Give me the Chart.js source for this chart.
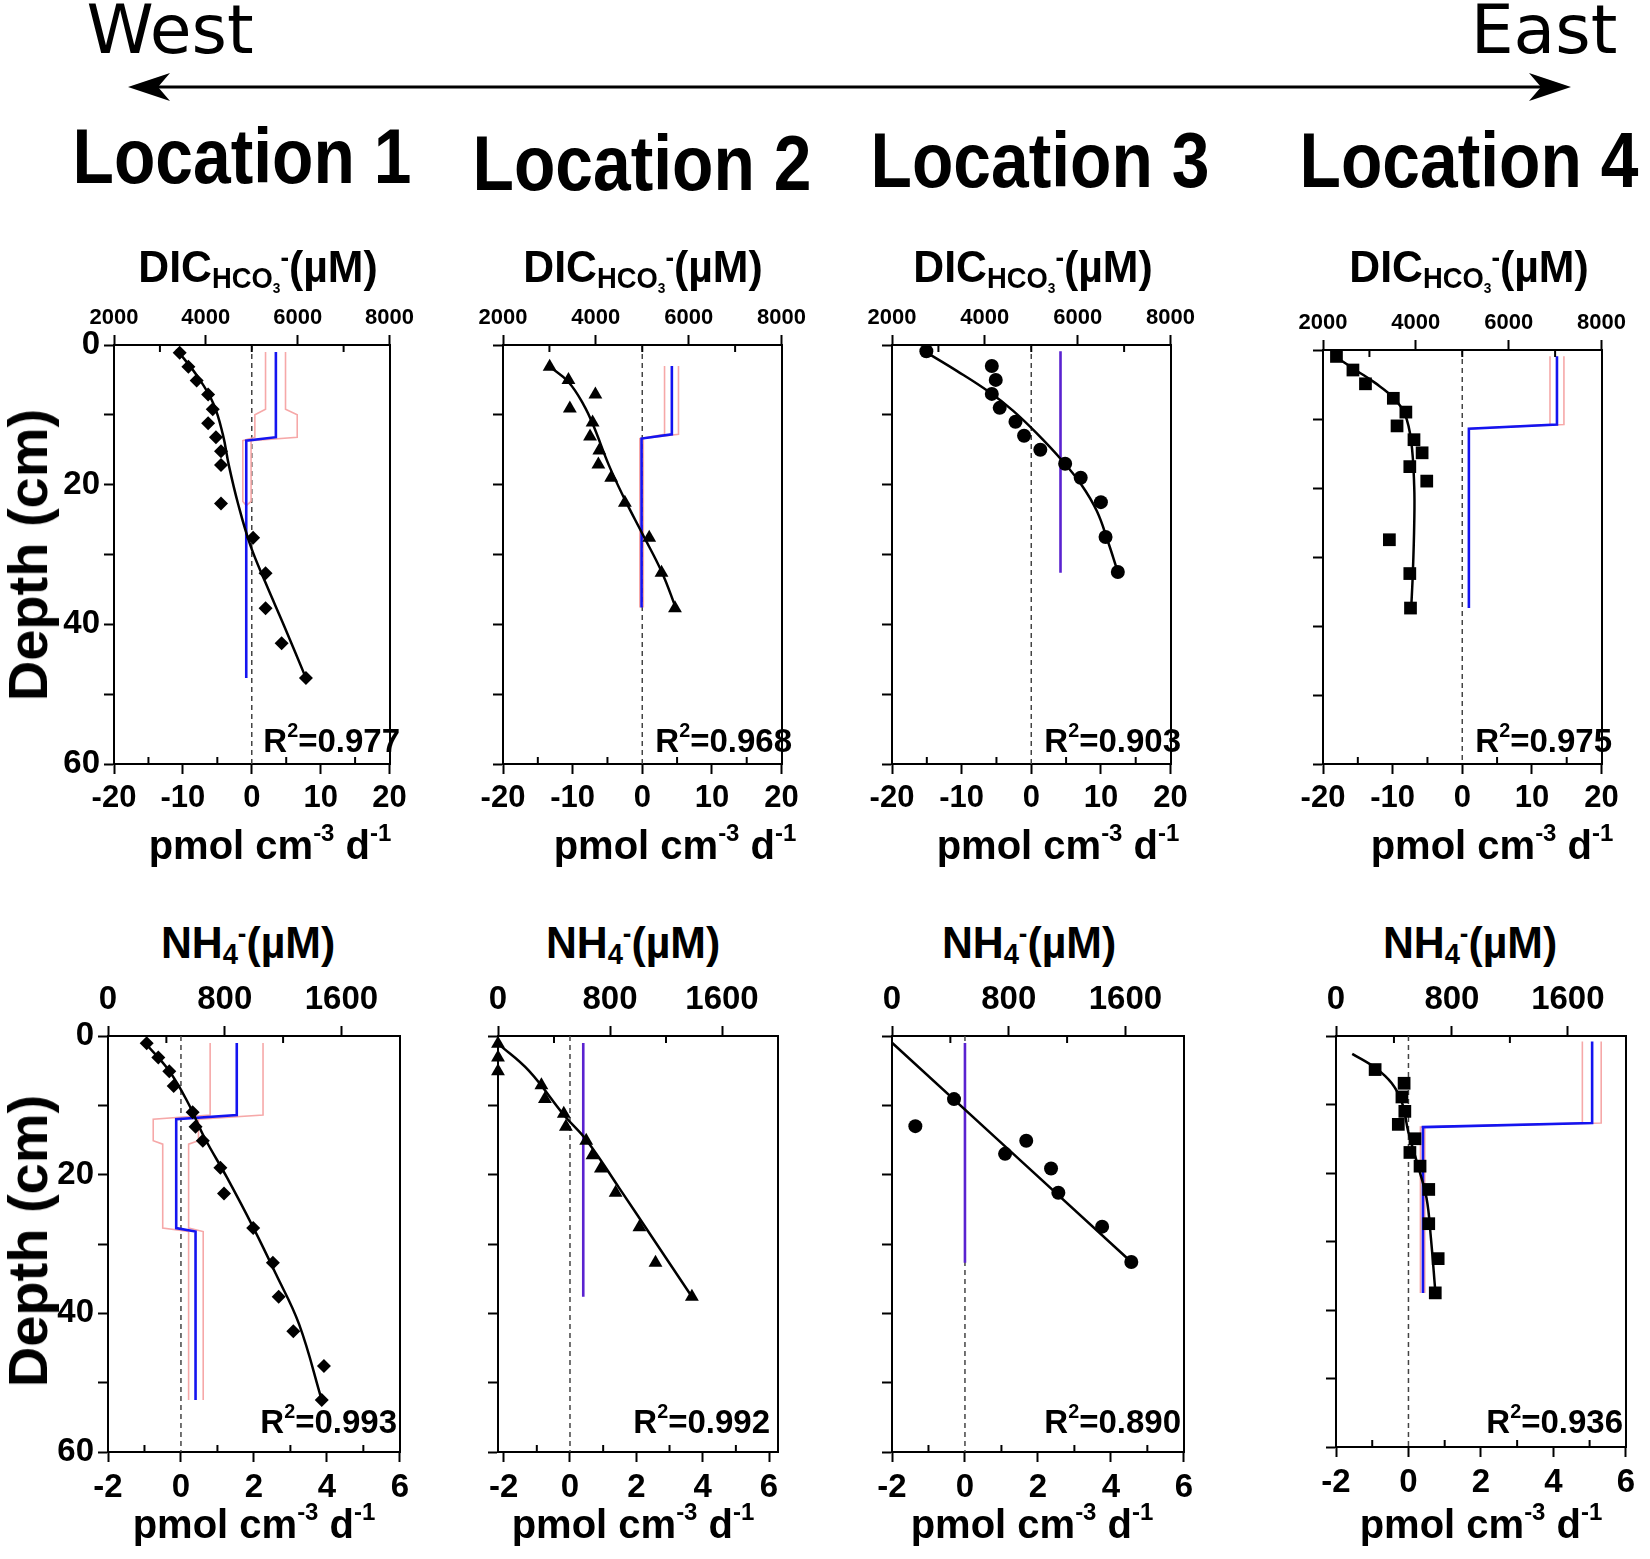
<!DOCTYPE html>
<html>
<head>
<meta charset="utf-8">
<script src="https://cdn.jsdelivr.net/npm/chart.js@4.4.1/dist/chart.umd.min.js"></script>
<style>
  body { margin: 0; background: #fff; }
  #fig { position: relative; width: 1650px; height: 1559px; overflow: hidden; font-family: 'Liberation Sans', Arial, sans-serif; }
  #fig canvas { position: absolute; }
  .lbl { position: absolute; transform: translate(-50%, -50%); white-space: nowrap; font-weight: bold; line-height: 1; color: #000; z-index: 2; }
  .loc { font-size: 77px; transform: translate(-50%, -50%) scaleX(0.88); }
  .dir { font-family: 'DejaVu Sans', sans-serif; font-weight: normal; font-size: 68px; }
  .ttl { font-size: 45px; transform: translate(-50%, -50%) scaleX(0.95); }
  .ttl .sm { font-size: 0.64em; position: relative; top: 0.2em; }
  .ttl .s3 { font-size: 0.5em; position: relative; top: 0.35em; }
  .ttl .sp { font-size: 0.6em; position: relative; top: -0.55em; }
  .unit { font-size: 40px; }
  .unit sup, .r2 sup { font-size: 0.6em; position: relative; top: -0.15em; vertical-align: top; }
  .r2 { font-size: 33px; transform: translate(-100%, -50%); }
  .depth { font-size: 56px; transform: translate(-50%, -50%) rotate(-90deg); }
</style>
</head>
<body>
<div id="fig">
  <svg style="position:absolute;left:0;top:0" width="1650" height="140">
    <line x1="150" y1="87" x2="1550" y2="87" stroke="#000" stroke-width="3"/>
    <path d="M128,87 L170,73 L158,87 L170,101 Z" fill="#000"/>
    <path d="M1571,87 L1529,73 L1541,87 L1529,101 Z" fill="#000"/>
  </svg>
  <div class="lbl dir" style="left:170px;top:30px">West</div>
  <div class="lbl dir" style="left:1544px;top:30px">East</div>
  <div class="lbl loc" style="left:242px;top:156px">Location 1</div>
  <div class="lbl loc" style="left:642px;top:163px">Location 2</div>
  <div class="lbl loc" style="left:1040px;top:160px">Location 3</div>
  <div class="lbl loc" style="left:1469px;top:160px">Location 4</div>
  <div class="lbl depth" style="left:28px;top:555px">Depth (cm)</div>
  <div class="lbl depth" style="left:28px;top:1241px">Depth (cm)</div>
</div>
<script>
// ---- Location 1, DIC ----
const dic1Depth = [1.1, 3.1, 5.1, 7.1, 9.2, 11.2, 13.2, 15.2, 17.2, 22.7, 27.6, 32.7, 37.7, 42.7, 47.7];
const dic1Conc = [3430, 3620, 3800, 4050, 4150, 4050, 4220, 4330, 4330, 4330, 5030, 5300, 5300, 5650, 6180];
const dic1FitDepth = [0.6, 4.6, 8.4, 12.8, 17.2, 22.7, 28.7, 34.2, 40.3, 47.7];
const dic1FitConc = [3360, 3830, 4165, 4370, 4500, 4700, 4970, 5310, 5710, 6180];
const dic1RateDepth = [1.0, 13.2, 13.7, 47.7];
const dic1Rate = [3.5, 3.5, -0.8, -0.8];
const dic1BandDepth = [1.0, 9.2, 10.0, 13.2, 13.7, 22.4, 23.0];
const dic1Lo = [2.0, 2.0, 0.45, 0.45, -1.3, -1.3, -0.8];
const dic1Hi = [4.9, 4.9, 6.6, 6.6, -0.1, -0.1, -0.8];

// ---- Location 2, DIC ----
const dic2Depth = [3.1, 5.0, 7.1, 9.1, 11.1, 13.1, 15.1, 17.1, 19.0, 22.6, 27.6, 32.6, 37.7];
const dic2Conc = [3005, 3410, 3990, 3440, 3930, 3875, 4075, 4055, 4330, 4625, 5150, 5415, 5705];
const dic2FitDepth = [3.1, 5.3, 8.6, 11.5, 17.2, 22.0, 27.0, 32.5, 37.6];
const dic2FitConc = [3005, 3410, 3740, 3945, 4280, 4615, 5000, 5420, 5720];
const dic2RateDepth = [3.0, 12.8, 13.4, 37.6];
const dic2Rate = [4.25, 4.25, -0.1, -0.1];
const dic2BandDepth = [3.0, 12.8, 13.4, 37.6];
const dic2Lo = [3.2, 3.2, -0.35, -0.35];
const dic2Hi = [5.2, 5.2, 0.15, 0.15];

// ---- Location 3, DIC ----
const dic3Depth = [0.9, 3.0, 5.0, 7.0, 9.0, 11.0, 13.0, 15.0, 17.0, 19.0, 22.5, 27.5, 32.5];
const dic3Conc = [2740, 4150, 4235, 4150, 4320, 4660, 4845, 5195, 5730, 6065, 6500, 6600, 6865];
const dic3FitDepth = [1.05, 3.7, 6.6, 9.4, 12.8, 16.4, 20.0, 23.8, 28.1, 32.2];
const dic3FitConc = [2740, 3395, 4065, 4605, 5140, 5645, 6080, 6415, 6650, 6850];
const dic3RateDepth = [0.9, 32.6];
const dic3Rate = [4.2, 4.2];

// ---- Location 4, DIC ----
const dic4Depth = [0.93, 2.9, 4.9, 7.0, 9.0, 11.0, 13.0, 14.9, 16.9, 19.0, 27.5, 32.4, 37.4];
const dic4Conc = [2290, 2645, 2915, 3515, 3785, 3595, 3960, 4135, 3870, 4235, 3430, 3870, 3885];
const dic4FitDepth = [0.93, 3.0, 4.8, 7.0, 9.3, 13.2, 19.8, 25.3, 32.4, 37.4];
const dic4FitConc = [2255, 2725, 3130, 3530, 3765, 3900, 3965, 3965, 3935, 3900];
const dic4RateDepth = [0.9, 10.8, 11.4, 37.4];
const dic4Rate = [13.6, 13.6, 0.95, 0.95];
const dic4BandDepth = [0.9, 10.8, 11.4, 37.4];
const dic4Lo = [12.6, 12.6, 0.95, 0.95];
const dic4Hi = [14.6, 14.6, 0.95, 0.95];

// ---- Location 1, NH4 ----
const nh1Depth = [1.06, 3.1, 5.1, 7.2, 11.0, 13.1, 15.1, 19.0, 22.7, 27.7, 32.7, 37.6, 42.6, 47.6, 52.5];
const nh1Conc = [265, 345, 420, 450, 580, 600, 650, 770, 795, 995, 1130, 1170, 1270, 1480, 1465];
const nh1FitDepth = [0.8, 4.9, 9.7, 14.6, 20.4, 27.6, 34.3, 41.6, 52.5];
const nh1FitConc = [245, 415, 550, 660, 815, 995, 1150, 1310, 1465];
const nh1RateDepth = [1.0, 11.4, 12.0, 27.7, 28.2, 52.5];
const nh1Rate = [1.53, 1.53, -0.13, -0.13, 0.4, 0.4];
const nh1BandDepth = [1.0, 11.4, 12.0, 15.1, 15.6, 27.7, 28.2, 52.5];
const nh1Lo = [0.8, 0.8, -0.76, -0.76, -0.5, -0.5, 0.21, 0.21];
const nh1Hi = [2.25, 2.25, 0.48, 0.48, 0.21, 0.21, 0.61, 0.61];

// ---- Location 2, NH4 ----
const nh2Depth = [1.1, 3.1, 5.1, 7.1, 9.1, 11.2, 13.1, 15.1, 17.2, 19.1, 22.6, 27.6, 32.7, 37.6];
const nh2Conc = [0, 0, 0, 310, 335, 470, 485, 630, 675, 735, 840, 1010, 1125, 1385];
const nh2FitDepth = [1.1, 5.0, 11.5, 15.1, 21.9, 29.6, 37.6];
const nh2FitConc = [0, 220, 475, 635, 865, 1120, 1385];
const nh2RateDepth = [1.0, 37.6];
const nh2Rate = [0.4, 0.4];

// ---- Location 3, NH4 ----
const nh3Depth = [9.1, 13.0, 15.1, 17.0, 19.1, 22.6, 27.5, 32.6];
const nh3Conc = [425, 160, 920, 775, 1090, 1140, 1440, 1640];
const nh3FitDepth = [0.97, 32.6];
const nh3FitConc = [0, 1640];
const nh3RateDepth = [1.0, 32.7];
const nh3Rate = [0, 0];

// ---- Location 4, NH4 ----
const nh4Depth = [4.9, 6.9, 8.9, 11.0, 12.9, 15.0, 17.0, 19.0, 22.4, 27.4, 32.5, 37.5];
const nh4Conc = [270, 470, 455, 475, 430, 545, 510, 580, 640, 640, 705, 685];
const nh4FitDepth = [2.6, 4.7, 6.9, 9.7, 14.1, 18.9, 23.7, 29.5, 37.2];
const nh4FitConc = [112, 275, 385, 455, 500, 565, 625, 655, 685];
const nh4RateDepth = [0.8, 12.7, 13.3, 37.5];
const nh4Rate = [5.07, 5.07, 0.4, 0.4];
const nh4BandDepth = [0.8, 12.7, 13.3, 37.5];
const nh4Lo = [4.8, 4.8, 0.33, 0.33];
const nh4Hi = [5.32, 5.32, 0.45, 0.45];

const r2Values = ['0.977', '0.968', '0.903', '0.975', '0.993', '0.992', '0.890', '0.936'];

// tick values (labelled / major) and minor ticks
const depthTicks = [0, 10, 20, 30, 40, 50, 60];
const depthLabels = [0, 20, 40, 60];
const dicTicks = [2000, 4000, 6000, 8000];
const dicMinor = [3000, 5000, 7000];
const nhTicks = [0, 800, 1600];
const nhMinor = [400, 1200];
const dicRateTicks = [-20, -10, 0, 10, 20];
const dicRateMinor = [-15, -5, 5, 15];
const nhRateTicks = [-2, 0, 2, 4, 6];
const nhRateMinor = [-1, 1, 3, 5];

const BLUE = '#1414f0', PINK = '#f6a8a8', PURPLE = '#5a22d0';
const FONT = "'Liberation Sans', Arial, sans-serif";
const PAD = { l: 90, t: 62, r: 10, b: 62 };

const pairs = (xs, ys) => xs.map((x, i) => ({ x: x, y: ys[i] }));
const tickObjs = vals => vals.map(v => ({ value: v }));

const panels = [
  { box: [114, 345, 408, 764], row: 1, leftLabels: true, marker: 'rectRot', size: 7,
    conc: dic1Conc, depth: dic1Depth, fitC: dic1FitConc, fitD: dic1FitDepth,
    rate: dic1Rate, rateD: dic1RateDepth, lo: dic1Lo, hi: dic1Hi, bandD: dic1BandDepth, title: 'dic', cx: 258, ux: 270 },
  { box: [503, 345, 800, 764], row: 1, marker: 'triangle', size: 8,
    conc: dic2Conc, depth: dic2Depth, fitC: dic2FitConc, fitD: dic2FitDepth,
    rate: dic2Rate, rateD: dic2RateDepth, lo: dic2Lo, hi: dic2Hi, bandD: dic2BandDepth, title: 'dic', cx: 643, ux: 675 },
  { box: [892, 345, 1189, 764], row: 1, marker: 'circle', size: 7,
    conc: dic3Conc, depth: dic3Depth, fitC: dic3FitConc, fitD: dic3FitDepth,
    rate: dic3Rate, rateD: dic3RateDepth, purple: true, title: 'dic', cx: 1033, ux: 1058 },
  { box: [1323, 350, 1620, 764], row: 1, marker: 'rect', size: 9,
    conc: dic4Conc, depth: dic4Depth, fitC: dic4FitConc, fitD: dic4FitDepth,
    rate: dic4Rate, rateD: dic4RateDepth, lo: dic4Lo, hi: dic4Hi, bandD: dic4BandDepth, title: 'dic', cx: 1469, ux: 1492 },
  { box: [108, 1036, 405, 1452], row: 2, leftLabels: true, marker: 'rectRot', size: 7,
    conc: nh1Conc, depth: nh1Depth, fitC: nh1FitConc, fitD: nh1FitDepth,
    rate: nh1Rate, rateD: nh1RateDepth, lo: nh1Lo, hi: nh1Hi, bandD: nh1BandDepth, title: 'nh', cx: 248, ux: 254 },
  { box: [498, 1036, 778, 1452], row: 2, marker: 'triangle', size: 8, rateRange: [-2.17, 6.27],
    conc: nh2Conc, depth: nh2Depth, fitC: nh2FitConc, fitD: nh2FitDepth,
    rate: nh2Rate, rateD: nh2RateDepth, purple: true, title: 'nh', cx: 633, ux: 633 },
  { box: [892, 1036, 1189, 1452], row: 2, marker: 'circle', size: 7,
    conc: nh3Conc, depth: nh3Depth, fitC: nh3FitConc, fitD: nh3FitDepth,
    rate: nh3Rate, rateD: nh3RateDepth, purple: true, title: 'nh', cx: 1029, ux: 1032 },
  { box: [1336, 1036, 1631, 1447], row: 2, marker: 'rect', size: 9,
    conc: nh4Conc, depth: nh4Depth, fitC: nh4FitConc, fitD: nh4FitDepth,
    rate: nh4Rate, rateD: nh4RateDepth, lo: nh4Lo, hi: nh4Hi, bandD: nh4BandDepth, title: 'nh', cx: 1470, ux: 1481 }
];

// minor ticks drawn inside the box, between the labelled ticks
const minorTicks = {
  id: 'minorTicks',
  afterDraw(chart, args, opts) {
    const ctx = chart.ctx, area = chart.chartArea;
    ctx.save();
    ctx.strokeStyle = '#000';
    ctx.lineWidth = 2;
    ['x', 'x2'].forEach(id => {
      const s = chart.scales[id];
      const vals = opts[id];
      if (!s || !vals) return;
      const y0 = id === 'x' ? area.bottom : area.top;
      const dir = id === 'x' ? -1 : 1;
      vals.forEach(v => {
        const px = s.getPixelForValue(v);
        ctx.beginPath();
        ctx.moveTo(px, y0);
        ctx.lineTo(px, y0 + dir * 7);
        ctx.stroke();
      });
    });
    ctx.restore();
  }
};

const fig = document.getElementById('fig');

function addText(cls, x, y, html) {
  const d = document.createElement('div');
  d.className = 'lbl ' + cls;
  d.style.left = x + 'px';
  d.style.top = y + 'px';
  d.innerHTML = html;
  fig.appendChild(d);
}

panels.forEach((p, i) => {
  const [l, t, r, b] = p.box;
  const canvas = document.createElement('canvas');
  canvas.width = (r - l) + PAD.l + PAD.r;
  canvas.height = (b - t) + PAD.t + PAD.b;
  canvas.style.left = (l - PAD.l) + 'px';
  canvas.style.top = (t - PAD.t) + 'px';
  fig.appendChild(canvas);

  const row1 = p.row === 1;
  const cTicks = row1 ? dicTicks : nhTicks;
  const rTicks = row1 ? dicRateTicks : nhRateTicks;
  const cMin = row1 ? 2000 : 0, cMax = row1 ? 8000 : 2000;
  const rMin = p.rateRange ? p.rateRange[0] : rTicks[0];
  const rMax = p.rateRange ? p.rateRange[1] : rTicks[rTicks.length - 1];

  const datasets = [
    { data: pairs(p.conc, p.depth), xAxisID: 'x2', showLine: false, pointStyle: p.marker,
      pointRadius: p.size, backgroundColor: '#000', borderColor: '#000', borderWidth: 0, clip: false },
    { data: pairs(p.fitC, p.fitD), xAxisID: 'x2', showLine: true, pointRadius: 0,
      borderColor: '#000', borderWidth: 2.5, tension: 0.4 },
    { data: pairs(p.rate, p.rateD), xAxisID: 'x', showLine: true, pointRadius: 0,
      borderColor: p.purple ? PURPLE : BLUE, borderWidth: 2.6, tension: 0 }
  ];
  if (p.lo) {
    datasets.push({ data: pairs(p.lo, p.bandD), xAxisID: 'x', showLine: true, pointRadius: 0,
      borderColor: PINK, borderWidth: 1.6, tension: 0 });
    datasets.push({ data: pairs(p.hi, p.bandD), xAxisID: 'x', showLine: true, pointRadius: 0,
      borderColor: PINK, borderWidth: 1.6, tension: 0 });
  }
  // zero-rate reference
  datasets.push({ data: [{ x: 0, y: 0 }, { x: 0, y: 60 }], xAxisID: 'x', showLine: true, pointRadius: 0,
    borderColor: '#444', borderWidth: 1.5, borderDash: [5, 4] });

  const grid = { drawOnChartArea: false, drawTicks: true, tickLength: 10, tickWidth: 2, tickColor: '#000' };
  const border = { display: true, color: '#000', width: 2 };
  const tickBase = { autoSkip: false, maxRotation: 0, minRotation: 0, color: '#000' };

  new Chart(canvas.getContext('2d'), {
    type: 'scatter',
    data: { datasets: datasets },
    options: {
      responsive: false,
      animation: false,
      events: [],
      layout: { padding: 0 },
      plugins: {
        legend: { display: false },
        tooltip: { enabled: false },
        minorTicks: row1 ? { x: dicRateMinor, x2: dicMinor } : { x: nhRateMinor, x2: nhMinor }
      },
      scales: {
        x: {
          type: 'linear', position: 'bottom', min: rMin, max: rMax, grid: grid, border: border,
          ticks: Object.assign({}, tickBase, { padding: 6,
            font: { family: FONT, weight: 'bold', size: row1 ? 31 : 33 }, callback: v => String(v) }),
          afterBuildTicks: s => { s.ticks = tickObjs(rTicks); },
          afterFit: s => { s.height = PAD.b; }
        },
        x2: {
          type: 'linear', position: 'top', min: cMin, max: cMax, grid: grid, border: border,
          ticks: Object.assign({}, tickBase, { padding: row1 ? 4 : 6,
            font: { family: FONT, weight: 'bold', size: row1 ? 22 : 33 }, callback: v => String(v) }),
          afterBuildTicks: s => { s.ticks = tickObjs(cTicks); },
          afterFit: s => { s.height = PAD.t; }
        },
        y: {
          type: 'linear', position: 'left', reverse: true, min: 0, max: 60, grid: grid, border: border,
          ticks: Object.assign({}, tickBase, { padding: 4,
            font: { family: FONT, weight: 'bold', size: 33 },
            callback: v => (p.leftLabels && depthLabels.includes(v)) ? String(v) : '' }),
          afterBuildTicks: s => { s.ticks = tickObjs(depthTicks); },
          afterFit: s => { s.width = PAD.l; }
        },
        yR: {
          type: 'linear', position: 'right', min: 0, max: 60,
          ticks: { display: false },
          grid: { drawOnChartArea: false, drawTicks: false },
          border: border,
          afterFit: s => { s.width = PAD.r; }
        }
      }
    },
    plugins: [minorTicks]
  });

  // text around the panel
  const titleY = row1 ? 266 : 942;
  const title = p.title === 'dic'
    ? 'DIC<span class="sm">HCO<span class="s3">3</span></span><span class="sp">-</span>(µM)'
    : 'NH<span class="sm">4</span><span class="sp">-</span>(µM)';
  addText('ttl', p.cx, titleY, title);
  addText('unit', p.ux, row1 ? 845 : 1524, 'pmol cm<sup>-3</sup> d<sup>-1</sup>');
  addText('r2', r - 8, row1 ? 740 : 1421, 'R<sup>2</sup>=' + r2Values[i]);
});
</script>
</body>
</html>
